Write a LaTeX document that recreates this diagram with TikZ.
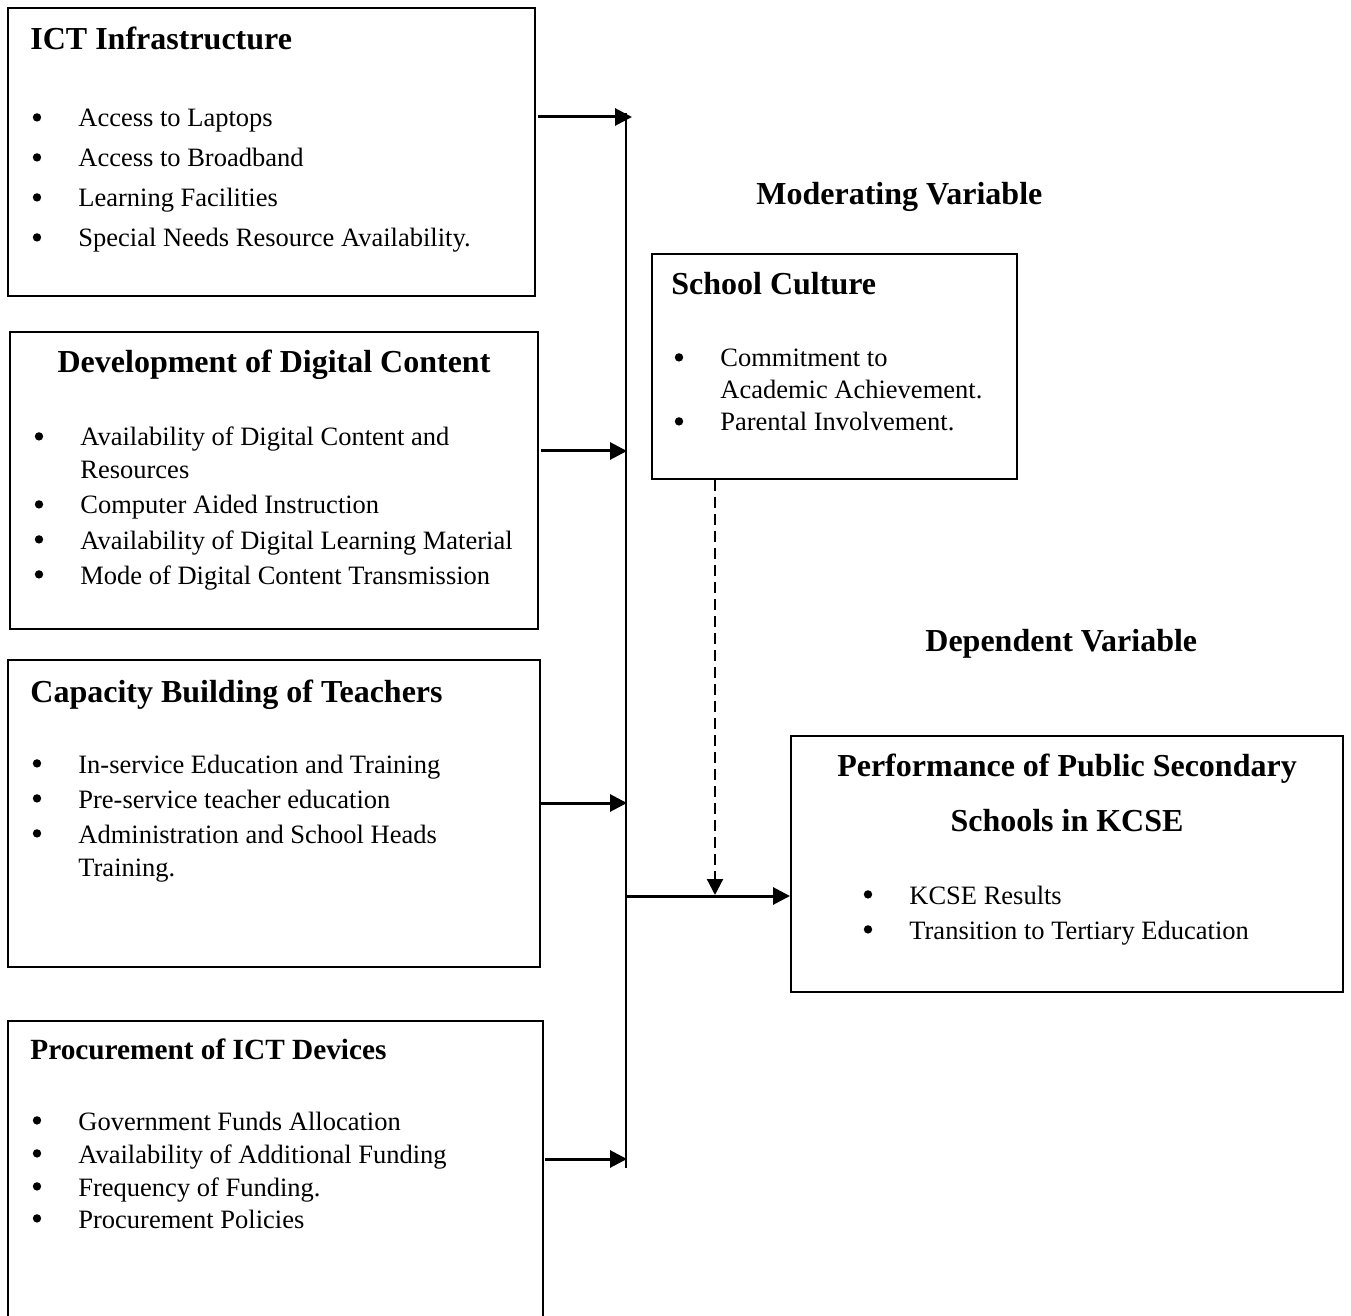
\documentclass[tikz,border=0pt]{standalone}
\usepackage{fontspec}
\setmainfont{Liberation Serif}
\usetikzlibrary{arrows.meta,fit}
% bulleted line: name, x, baseline y, text
\newcommand\myitem[4]{%
  \node[body] (#1) at (#2,#3) {#4};
  \fill ([xshift=-20.5pt,yshift=4.8pt]#1.base west) circle (2.1pt);}
\begin{document}
\begin{tikzpicture}[x=0.5pt,y=-0.5pt,
  boxline/.style={line width=1pt},
  box/.style={draw, boxline, inner sep=0pt},
  body/.style={anchor=base west, inner sep=0pt, font=\fontsize{13.25}{16}\selectfont},
  head/.style={anchor=base west, inner sep=0pt, font=\fontsize{16}{19}\selectfont\bfseries},
  conn/.style={line width=1.5pt, -{Triangle[length=8.5pt,width=8.5pt]}},
  dconn/.style={line width=1.1pt, dash pattern=on 5.5pt off 3pt, -{Triangle[length=8pt,width=8pt]}},
  spine/.style={line width=0.75pt}
]
\useasboundingbox (0,0) rectangle (1351,1316);

% ---- boxes ----
\node[box, fit={(8,8) (535,296)}] (ict) {};
\node[box, fit={(10,332) (538,629)}] (dev) {};
\node[box, fit={(8,660) (540,967)}] (cap) {};
\node[inner sep=0pt, fit={(8,1021) (543,1316)}] (proc) {};
\draw[boxline] (proc.south west) -- (proc.north west) -- (proc.north east) -- (proc.south east);
\node[box, fit={(652,254) (1017,479)}] (cult) {};
\node[box, fit={(791,736) (1343,992)}] (perf) {};

% ---- ICT Infrastructure ----
\node[head] (ictH) at (30,50) {ICT Infrastructure};
\myitem{ict1}{78}{127}{Access to Laptops}
\myitem{ict2}{78}{167}{Access to Broadband}
\myitem{ict3}{78}{207}{Learning Facilities}
\myitem{ict4}{78}{247}{Special Needs Resource Availability.}

% ---- Development of Digital Content ----
\node[head, anchor=base] (devH) at (274,373) {Development of Digital Content};
\myitem{dev1}{80}{446}{Availability of Digital Content and}
\node[body] (dev1b) at (80,479) {Resources};
\myitem{dev2}{80}{514}{Computer Aided Instruction}
\myitem{dev3}{80}{549}{Availability of Digital Learning Material}
\myitem{dev4}{80}{584}{Mode of Digital Content Transmission}

% ---- Capacity Building of Teachers ----
\node[head] (capH) at (30,702) {Capacity Building of Teachers};
\myitem{cap1}{78}{773}{In-service Education and Training}
\myitem{cap2}{78}{808}{Pre-service teacher education}
\myitem{cap3}{78}{843}{Administration and School Heads}
\node[body] (cap3b) at (78,876) {Training.};

% ---- Procurement of ICT Devices ----
\node[head, font=\fontsize{14.65}{18}\selectfont\bfseries] (procH) at (30,1059) {Procurement of ICT Devices};
\myitem{proc1}{78}{1130}{Government Funds Allocation}
\myitem{proc2}{78}{1163}{Availability of Additional Funding}
\myitem{proc3}{78}{1196}{Frequency of Funding.}
\myitem{proc4}{78}{1228}{Procurement Policies}

% ---- Moderating ----
\node[head] (modL) at (756,205) {Moderating Variable};
\node[head] (cultH) at (671,295) {School Culture};
\myitem{cult1}{720}{367}{Commitment to}
\node[body] (cult1b) at (720,399) {Academic Achievement.};
\myitem{cult2}{720}{431}{Parental Involvement.}

% ---- Dependent ----
\node[head] (depL) at (925,651) {Dependent Variable};
\node[head, anchor=base] (perfH1) at (1067,776) {Performance of Public Secondary};
\node[head, anchor=base] (perfH2) at (1067,831) {Schools in KCSE};
\myitem{perf1}{909}{904}{KCSE Results}
\myitem{perf2}{909}{939}{Transition to Tertiary Education}

% ---- connectors ----
\coordinate (vtop) at (626,113);
\coordinate (vbot) at (626,1168);
\draw[spine] (vtop) -- (vbot);

\coordinate (j1) at (632,117);
\coordinate (j2) at (627,451);
\coordinate (j3) at (627,803);
\coordinate (j4) at (627,1159);
\draw[conn] (ict.east |- j1) ++(2,0) -- (j1);
\draw[conn] (dev.east |- j2) ++(2,0) -- (j2);
\draw[conn] (cap.east |- j3) -- (j3);
\draw[conn] (proc.east |- j4) ++(2,0) -- (j4);

\coordinate (jm) at (627,896);
\draw[conn] (jm) -- (perf.west |- jm);

\coordinate (dm) at (715,895);
\draw[dconn] (dm |- cult.south) -- (dm);
\end{tikzpicture}
\end{document}
